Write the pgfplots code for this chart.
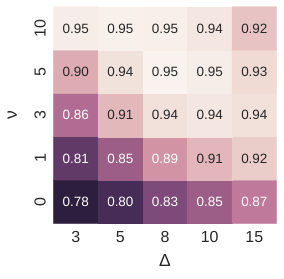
\documentclass[border=0pt]{standalone}
\usepackage{fontspec}
\setmainfont{Liberation Sans}
\usepackage{pgfplots}
\usepackage{pgfplotstable}
\pgfplotsset{compat=1.18}
\pgfplotsset{/pgf/number format/assume math mode=true}
\pgfplotstableread{
x y v
0 0 0.780
1 0 0.800
2 0 0.830
3 0 0.850
4 0 0.870
0 1 0.810
1 1 0.850
2 1 0.890
3 1 0.910
4 1 0.924
0 2 0.860
1 2 0.911
2 2 0.940
3 2 0.944
4 2 0.940
0 3 0.903
1 3 0.941
2 3 0.954
3 3 0.949
4 3 0.934
0 4 0.949
1 4 0.952
2 4 0.951
3 4 0.944
4 4 0.919
}\hm
\begin{document}
\begin{tikzpicture}
\begin{axis}[
  width=223bp, height=216.5bp, scale only axis,
  xmin=-0.5, xmax=4.5, ymin=-0.5, ymax=4.5,
  axis line style={draw=none},
  major tick length=0pt,
  xtick={0,1,2,3,4}, xticklabels={3,5,8,10,15},
  ytick={0,1,2,3,4}, yticklabels={0,1,3,5,10},
  tick label style={font=\fontsize{16}{19}\selectfont, text=black!85},
  yticklabel style={rotate=90, anchor=south},
  xticklabel shift=4bp, yticklabel shift=4bp,
  xlabel={Δ}, ylabel={ν},
  every axis x label/.style={at={(axis description cs:0.5,0)}, anchor=north, yshift=-27bp,
    font=\fontsize{17.5}{21}\selectfont, text=black!85},
  every axis y label/.style={at={(axis description cs:0,0.5)}, xshift=-33bp, rotate=90, anchor=south,
    font=\fontsize{17.5}{21}\selectfont, text=black!85},
  colormap={hm}{rgb255(0pt)=(44,30,61) rgb255(20pt)=(72,44,88) rgb255(30pt)=(98,58,104)
    rgb255(50pt)=(126,74,122) rgb255(70pt)=(156,93,135) rgb255(80pt)=(176,108,146)
    rgb255(90pt)=(191,122,155) rgb255(110pt)=(210,148,165) rgb255(120pt)=(219,166,175)
    rgb255(130pt)=(226,182,186) rgb255(140pt)=(232,198,196) rgb255(150pt)=(238,213,207)
    rgb255(160pt)=(242,225,219) rgb255(170pt)=(247,238,233) rgb255(175pt)=(250,243,239)},
  point meta min=0.78, point meta max=0.955,
]
\addplot[matrix plot*, mesh/cols=5, point meta=explicit] table[meta=v] {\hm};
\addplot[draw=none, mark=none, point meta=explicit,
  restrict expr to domain={\thisrow{v}}{0:0.895},
  nodes near coords={\pgfmathprintnumber[fixed,fixed zerofill,precision=2]{\pgfplotspointmeta}},
  every node near coord/.append style={anchor=center, text=white, font=\fontsize{13.5}{16}\selectfont}]
  table[meta=v] {\hm};
\addplot[draw=none, mark=none, point meta=explicit,
  restrict expr to domain={\thisrow{v}}{0.895:1},
  nodes near coords={\pgfmathprintnumber[fixed,fixed zerofill,precision=2]{\pgfplotspointmeta}},
  every node near coord/.append style={anchor=center, text=black!85, font=\fontsize{13.5}{16}\selectfont}]
  table[meta=v] {\hm};
\coordinate (sw) at (rel axis cs:0,0);
\coordinate (ne) at (rel axis cs:1,1);
\end{axis}
\pgfresetboundingbox
\useasboundingbox ([shift={(-53.3bp,-54.7bp)}]sw) rectangle ([shift={(7.3bp,6.7bp)}]ne);
\end{tikzpicture}
\end{document}
